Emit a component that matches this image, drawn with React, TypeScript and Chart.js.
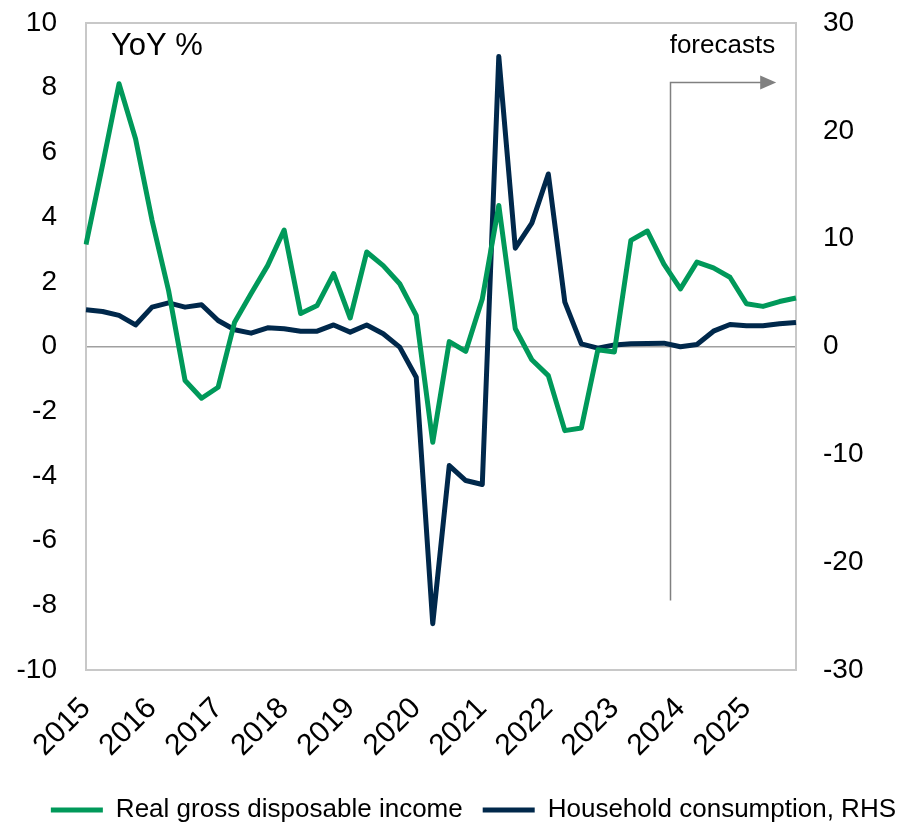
import React, { useEffect, useRef } from 'react';
import { Chart, registerables } from 'chart.js';

Chart.register(...registerables);

const years = ['2015', '2016', '2017', '2018', '2019', '2020', '2021', '2022', '2023', '2024', '2025'];
const quarterNames = ['Q1', 'Q2', 'Q3', 'Q4'];
const categories = years.flatMap((y) => quarterNames.map((q) => `${y} ${q}`));

const realGrossDisposableIncome = [
  3.15, 5.6, 8.12, 6.42, 3.9, 1.73, -1.05, -1.6, -1.26, 0.75, 1.64, 2.5,
  3.6, 1.02, 1.27, 2.25, 0.88, 2.92, 2.5, 1.94, 0.96, -2.96, 0.15, -0.15,
  1.47, 4.36, 0.55, -0.41, -0.9, -2.6, -2.52, -0.1, -0.17, 3.28, 3.57, 2.55,
  1.78, 2.61, 2.43, 2.14, 1.32, 1.24, 1.39, 1.5,
];

const householdConsumption = [
  3.4, 3.25, 2.88, 2.0, 3.65, 4.05, 3.65, 3.87, 2.41, 1.55, 1.24, 1.73,
  1.64, 1.42, 1.42, 2.0, 1.33, 2.0, 1.18, -0.06, -2.85, -25.7, -11.04, -12.43,
  -12.8, 26.9, 9.12, 11.44, 16.0, 4.11, 0.25, -0.15, 0.15, 0.25, 0.28, 0.31,
  -0.02, 0.19, 1.42, 2.04, 1.92, 1.92, 2.1, 2.23,
];

const seriesNames = ['Real gross disposable income', 'Household consumption, RHS'];
const leftAxis = { min: -10, max: 10, step: 2 };
const rightAxis = { min: -30, max: 30, step: 10 };

// forecast marker (category index position) and its extent on the left axis
const forecastIndex = 35.35;
const forecastArrowEndIndex = 41.8;
const forecastTop = 8.17;
const forecastBottom = -7.85;

const FONT = '"Liberation Sans", Arial, sans-serif';
const GREEN = '#00995A';
const NAVY = '#00284B';

const PAD = { top: 23, left: 0, right: -15, bottom: -9 };
const PLOT_BOTTOM = 670;

const decorPlugin = {
  id: 'decor',
  beforeDatasetsDraw(chart: any) {
    const { ctx, chartArea, scales } = chart;
    const { left, top, right, bottom } = chartArea;
    ctx.save();
    ctx.strokeStyle = '#c8c8c8';
    ctx.lineWidth = 2;
    ctx.strokeRect(left, top, right - left, bottom - top);

    const x = scales.x;
    const y = scales.y;
    const fx = Math.round(x.getPixelForValue(forecastIndex)) + 0.5;
    const yTop = Math.round(y.getPixelForValue(forecastTop)) + 0.5;
    const yBot = y.getPixelForValue(forecastBottom);
    const ax = x.getPixelForValue(forecastArrowEndIndex);
    ctx.strokeStyle = '#808080';
    ctx.fillStyle = '#808080';
    ctx.lineWidth = 1.5;
    ctx.beginPath();
    ctx.moveTo(fx, yBot);
    ctx.lineTo(fx, yTop);
    ctx.lineTo(ax - 14, yTop);
    ctx.stroke();
    ctx.beginPath();
    ctx.moveTo(ax, yTop);
    ctx.lineTo(ax - 16, yTop - 7);
    ctx.lineTo(ax - 16, yTop + 7);
    ctx.closePath();
    ctx.fill();
    ctx.restore();
  },
  afterDraw(chart: any) {
    const { ctx, chartArea, scales } = chart;
    const { left, top } = chartArea;
    ctx.save();
    ctx.fillStyle = '#000';
    ctx.textBaseline = 'alphabetic';
    ctx.textAlign = 'left';
    ctx.font = `31px ${FONT}`;
    ctx.fillText('YoY %', left + 25, top + 32);
    ctx.font = `26px ${FONT}`;
    const fx = scales.x.getPixelForValue(forecastIndex);
    ctx.fillText('forecasts', fx, top + 30);
    ctx.restore();
  },
};

export default function App() {
  const ref = useRef<HTMLCanvasElement | null>(null);

  useEffect(() => {
    if (!ref.current) return;
    const chart = new Chart(ref.current, {
      type: 'line',
      data: {
        labels: categories,
        datasets: [
          {
            label: seriesNames[0],
            data: realGrossDisposableIncome,
            borderColor: GREEN,
            backgroundColor: GREEN,
            borderWidth: 5,
            pointRadius: 0,
            tension: 0,
            borderJoinStyle: 'round',
            yAxisID: 'y',
          },
          {
            label: seriesNames[1],
            data: householdConsumption,
            borderColor: NAVY,
            backgroundColor: NAVY,
            borderWidth: 5,
            pointRadius: 0,
            tension: 0,
            borderJoinStyle: 'round',
            yAxisID: 'y1',
          },
        ],
      },
      options: {
        animation: false,
        responsive: false,
        layout: { padding: PAD },
        plugins: {
          tooltip: { enabled: false },
          legend: {
            position: 'bottom',
            align: 'end',
            labels: {
              boxWidth: 52,
              boxHeight: 5,
              padding: 20,
              color: '#000',
              font: { family: FONT, size: 26 },
              generateLabels: (c: any) =>
                Chart.defaults.plugins.legend.labels
                  .generateLabels(c)
                  .map((l: any) => ({ ...l, lineWidth: 0 })),
            },
          },
        },
        scales: {
          x: {
            type: 'category',
            offset: false,
            grid: { display: false, drawTicks: false },
            border: { display: false },
            ticks: {
              autoSkip: false,
              maxRotation: 45,
              minRotation: 45,
              padding: 21,
              color: '#000',
              font: { family: FONT, size: 30 },
              callback: (_v: any, i: number) => (i % 4 === 0 ? categories[i].slice(0, 4) : ''),
            },
            afterFit: (s: any) => {
              const lh = s.chart.legend ? s.chart.legend.height : 0;
              s.height = s.chart.height - PAD.bottom - lh - PLOT_BOTTOM;
              s.paddingLeft = 0;
              s.paddingRight = 0;
            },
          },
          y: {
            position: 'left',
            min: leftAxis.min,
            max: leftAxis.max,
            border: { display: false },
            grid: {
              drawTicks: false,
              lineWidth: 1.5,
              color: (c: any) => (c.tick && c.tick.value === 0 ? '#a0a0a0' : 'rgba(0,0,0,0)'),
            },
            ticks: {
              stepSize: leftAxis.step,
              padding: 29,
              color: '#000',
              font: { family: FONT, size: 28 },
            },
            afterFit: (s: any) => {
              s.width = 86;
              s.paddingTop = 0;
              s.paddingBottom = 0;
            },
          },
          y1: {
            position: 'right',
            min: rightAxis.min,
            max: rightAxis.max,
            border: { display: false },
            grid: { display: false, drawTicks: false },
            ticks: {
              stepSize: rightAxis.step,
              padding: 27,
              color: '#000',
              font: { family: FONT, size: 28 },
            },
            afterFit: (s: any) => {
              s.width = 120;
              s.paddingTop = 0;
              s.paddingBottom = 0;
            },
          },
        },
      },
      plugins: [decorPlugin],
    } as any);
    return () => chart.destroy();
  }, []);

  return (
    <div style={{ position: 'fixed', left: 0, top: 0, width: 901, height: 824 }}>
      <canvas ref={ref} width={901} height={824} />
    </div>
  );
}
